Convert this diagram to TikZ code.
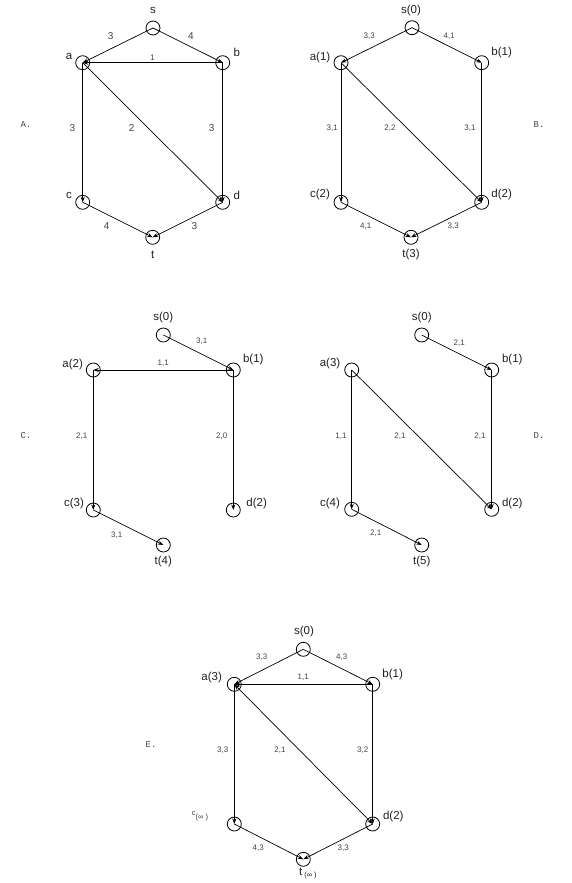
\documentclass[tikz,border=0pt]{standalone}
\usepackage{fontspec}
\setmainfont{Liberation Sans}
\newfontfamily\panelfont{Liberation Mono}
\usetikzlibrary{arrows.meta}
\definecolor{txt}{HTML}{222222}
\definecolor{ltxt}{HTML}{444444}
\tikzset{
  vtx/.style={circle,draw,minimum size=14pt,inner sep=0pt,line width=0.8pt},
  edg/.style={line width=0.7pt,-{Stealth[length=5.5pt,width=4pt]}},
  bedg/.style={line width=0.7pt,{Stealth[length=5.5pt,width=4pt]}-{Stealth[length=5.5pt,width=4pt]}},
  nl/.style={font=\fontsize{11.5}{12}\selectfont,text=txt,inner sep=0pt},
  el/.style={font=\fontsize{8}{9}\selectfont,text=ltxt,inner sep=0pt},
  elb/.style={font=\fontsize{10}{10}\selectfont,text=ltxt,inner sep=0pt},
  pl/.style={font=\panelfont\fontsize{9}{9}\selectfont,text=ltxt,inner sep=0pt}
}
\begin{document}
\begin{tikzpicture}[x=1pt,y=-1pt]
\useasboundingbox[fill=white] (0,0) rectangle (571,883);

% ---------- Panel A ----------
\node[vtx] (As) at (153,28) {};
\node[vtx] (Aa) at (82.7,62.7) {};
\node[vtx] (Ab) at (222.7,62.7) {};
\node[vtx] (Ac) at (82.7,202.3) {};
\node[vtx] (Ad) at (222.7,202.3) {};
\node[vtx] (At) at (152.7,237.3) {};
\node[nl] (Als) at (153,10) {s};
\node[nl] (Ala) at (69,56) {a};
\node[nl] (Alb) at (236.7,52) {b};
\node[nl] (Alc) at (69,195) {c};
\node[nl] (Ald) at (236.7,195) {d};
\node[nl] (Alt) at (152.7,255) {t};
\draw[edg] (As.center) -- (Aa.center);
\draw[edg] (As.center) -- (Ab.center);
\draw[edg] (Ab.center) -- (Aa.center);
\draw[edg] (Aa.center) -- (Ac.center);
\draw[edg] (Aa.center) -- (Ad.center);
\draw[edg] (Ab.center) -- (Ad.center);
\draw[edg] (Ac.center) -- (At.center);
\draw[edg] (Ad.center) -- (At.center);
\node[elb] (Ae1) at (110.7,36) {3};
\node[elb] (Ae2) at (191,36) {4};
\node[el] (Ae3) at (152.7,57.3) {1};
\node[elb] (Ae4) at (72.3,128.3) {3};
\node[elb] (Ae5) at (131.7,128.3) {2};
\node[elb] (Ae6) at (211.7,128.3) {3};
\node[elb] (Ae7) at (106.7,226) {4};
\node[elb] (Ae8) at (194.3,226) {3};
\node[pl] (PA) at (26,125) {A.};

% ---------- Panel B ----------
\node[vtx] (Bs) at (412,27.7) {};
\node[vtx] (Ba) at (341,62.7) {};
\node[vtx] (Bb) at (481.7,62.7) {};
\node[vtx] (Bc) at (341,202.3) {};
\node[vtx] (Bd) at (481.7,202.3) {};
\node[vtx] (Bt) at (411,237.3) {};
\node[nl] (Bls) at (411,11) {s(0)};
\node[nl] (Bla) at (320,57.3) {a(1)};
\node[nl] (Blb) at (501.7,52.7) {b(1)};
\node[nl] (Blc) at (320,195) {c(2)};
\node[nl] (Bld) at (501.7,195) {d(2)};
\node[nl] (Blt) at (411,255) {t(3)};
\draw[edg] (Bs.center) -- (Ba.center);
\draw[edg] (Bs.center) -- (Bb.center);
\draw[edg] (Ba.center) -- (Bc.center);
\draw[edg] (Ba.center) -- (Bd.center);
\draw[edg] (Bb.center) -- (Bd.center);
\draw[edg] (Bc.center) -- (Bt.center);
\draw[edg] (Bd.center) -- (Bt.center);
\node[el] (Be1) at (369.3,36) {3,3};
\node[el] (Be2) at (449.3,36) {4,1};
\node[el] (Be3) at (332.3,128.3) {3,1};
\node[el] (Be4) at (390,128.3) {2,2};
\node[el] (Be5) at (470,128.3) {3,1};
\node[el] (Be6) at (365.7,226.7) {4,1};
\node[el] (Be7) at (453.3,226.7) {3,3};
\node[pl] (PB) at (539,125) {B.};

% ---------- Panel C ----------
\node[vtx] (Cs) at (163.3,335) {};
\node[vtx] (Ca) at (93.3,370) {};
\node[vtx] (Cb) at (233.3,370) {};
\node[vtx] (Cc) at (93.3,510) {};
\node[vtx] (Cd) at (233.3,510) {};
\node[vtx] (Ct) at (163.3,545) {};
\node[nl] (Cls) at (163.3,318) {s(0)};
\node[nl] (Cla) at (72.7,364.3) {a(2)};
\node[nl] (Clb) at (253.3,360) {b(1)};
\node[nl] (Clc) at (74,504) {c(3)};
\node[nl] (Cld) at (256.7,504) {d(2)};
\node[nl] (Clt) at (163.3,561.7) {t(4)};
\draw[edg] (Cs.center) -- (Cb.center);
\draw[edg] (Cb.center) -- (Ca.center);
\draw[edg] (Ca.center) -- (Cc.center);
\draw[edg] (Cb.center) -- (Cd.center);
\draw[edg] (Cc.center) -- (Ct.center);
\node[el] (Ce1) at (201.7,341.7) {3,1};
\node[el] (Ce2) at (163.3,363.3) {1,1};
\node[el] (Ce3) at (81.7,436.7) {2,1};
\node[el] (Ce4) at (221.7,436.7) {2,0};
\node[el] (Ce5) at (116.7,535) {3,1};
\node[pl] (PC) at (26,436) {C.};

% ---------- Panel D ----------
\node[vtx] (Ds) at (421.7,335) {};
\node[vtx] (Da) at (351.7,370) {};
\node[vtx] (Db) at (491.7,370) {};
\node[vtx] (Dc) at (351.7,509.3) {};
\node[vtx] (Dd) at (491.7,509.3) {};
\node[vtx] (Dt) at (421.7,545) {};
\node[nl] (Dls) at (421.7,318) {s(0)};
\node[nl] (Dla) at (330,363.3) {a(3)};
\node[nl] (Dlb) at (512.3,359.3) {b(1)};
\node[nl] (Dlc) at (330,503.3) {c(4)};
\node[nl] (Dld) at (512.3,503.3) {d(2)};
\node[nl] (Dlt) at (421.7,561.7) {t(5)};
\draw[edg] (Ds.center) -- (Db.center);
\draw[edg] (Da.center) -- (Dc.center);
\draw[edg] (Da.center) -- (Dd.center);
\draw[edg] (Db.center) -- (Dd.center);
\draw[edg] (Dc.center) -- (Dt.center);
\node[el] (De1) at (459.3,343.3) {2,1};
\node[el] (De2) at (341,436.7) {1,1};
\node[el] (De3) at (400,436.7) {2,1};
\node[el] (De4) at (480,436.7) {2,1};
\node[el] (De5) at (375.7,533.3) {2,1};
\node[pl] (PD) at (539,436) {D.};

% ---------- Panel E ----------
\node[vtx] (Es) at (303.3,649.3) {};
\node[vtx] (Ea) at (234.3,684.3) {};
\node[vtx] (Eb) at (372.7,684.3) {};
\node[vtx] (Ec) at (234.3,824) {};
\node[vtx] (Ed) at (372.7,824) {};
\node[vtx] (Et) at (303.3,859.3) {};
\node[nl] (Els) at (304,632) {s(0)};
\node[nl] (Ela) at (211.7,677.7) {a(3)};
\node[nl] (Elb) at (392.7,674.3) {b(1)};
\node[font=\fontsize{7.5}{8}\selectfont,text=ltxt,inner sep=0pt] (Elc) at (200,816) {\raisebox{2.5pt}{c}\raisebox{-1.5pt}{(∞ )}};
\node[nl] (Eld) at (393.3,816.7) {d(2)};
\node[font=\fontsize{11.5}{12}\selectfont,text=txt,inner sep=0pt,anchor=base west] (Elt) at (299,875) {t\,\raisebox{-2pt}{\fontsize{7.5}{8}\selectfont (∞ )}};
\draw[edg] (Es.center) -- (Ea.center);
\draw[edg] (Es.center) -- (Eb.center);
\draw[edg] (Eb.center) -- (Ea.center);
\draw[edg] (Ea.center) -- (Ec.center);
\draw[bedg] (Ea.center) -- (Ed.center);
\draw[edg] (Eb.center) -- (Ed.center);
\draw[edg] (Ec.center) -- (Et.center);
\draw[edg] (Ed.center) -- (Et.center);
\node[el] (Ee1) at (261.7,657.3) {3,3};
\node[el] (Ee2) at (341.7,657.3) {4,3};
\node[el] (Ee3) at (303.3,677.7) {1,1};
\node[el] (Ee4) at (222.7,750) {3,3};
\node[el] (Ee5) at (280,750) {2,1};
\node[el] (Ee6) at (362.7,750) {3,2};
\node[el] (Ee7) at (258.3,848.3) {4,3};
\node[el] (Ee8) at (343.3,848.3) {3,3};
\node[pl] (PE) at (151,745) {E.};
\end{tikzpicture}
\end{document}
